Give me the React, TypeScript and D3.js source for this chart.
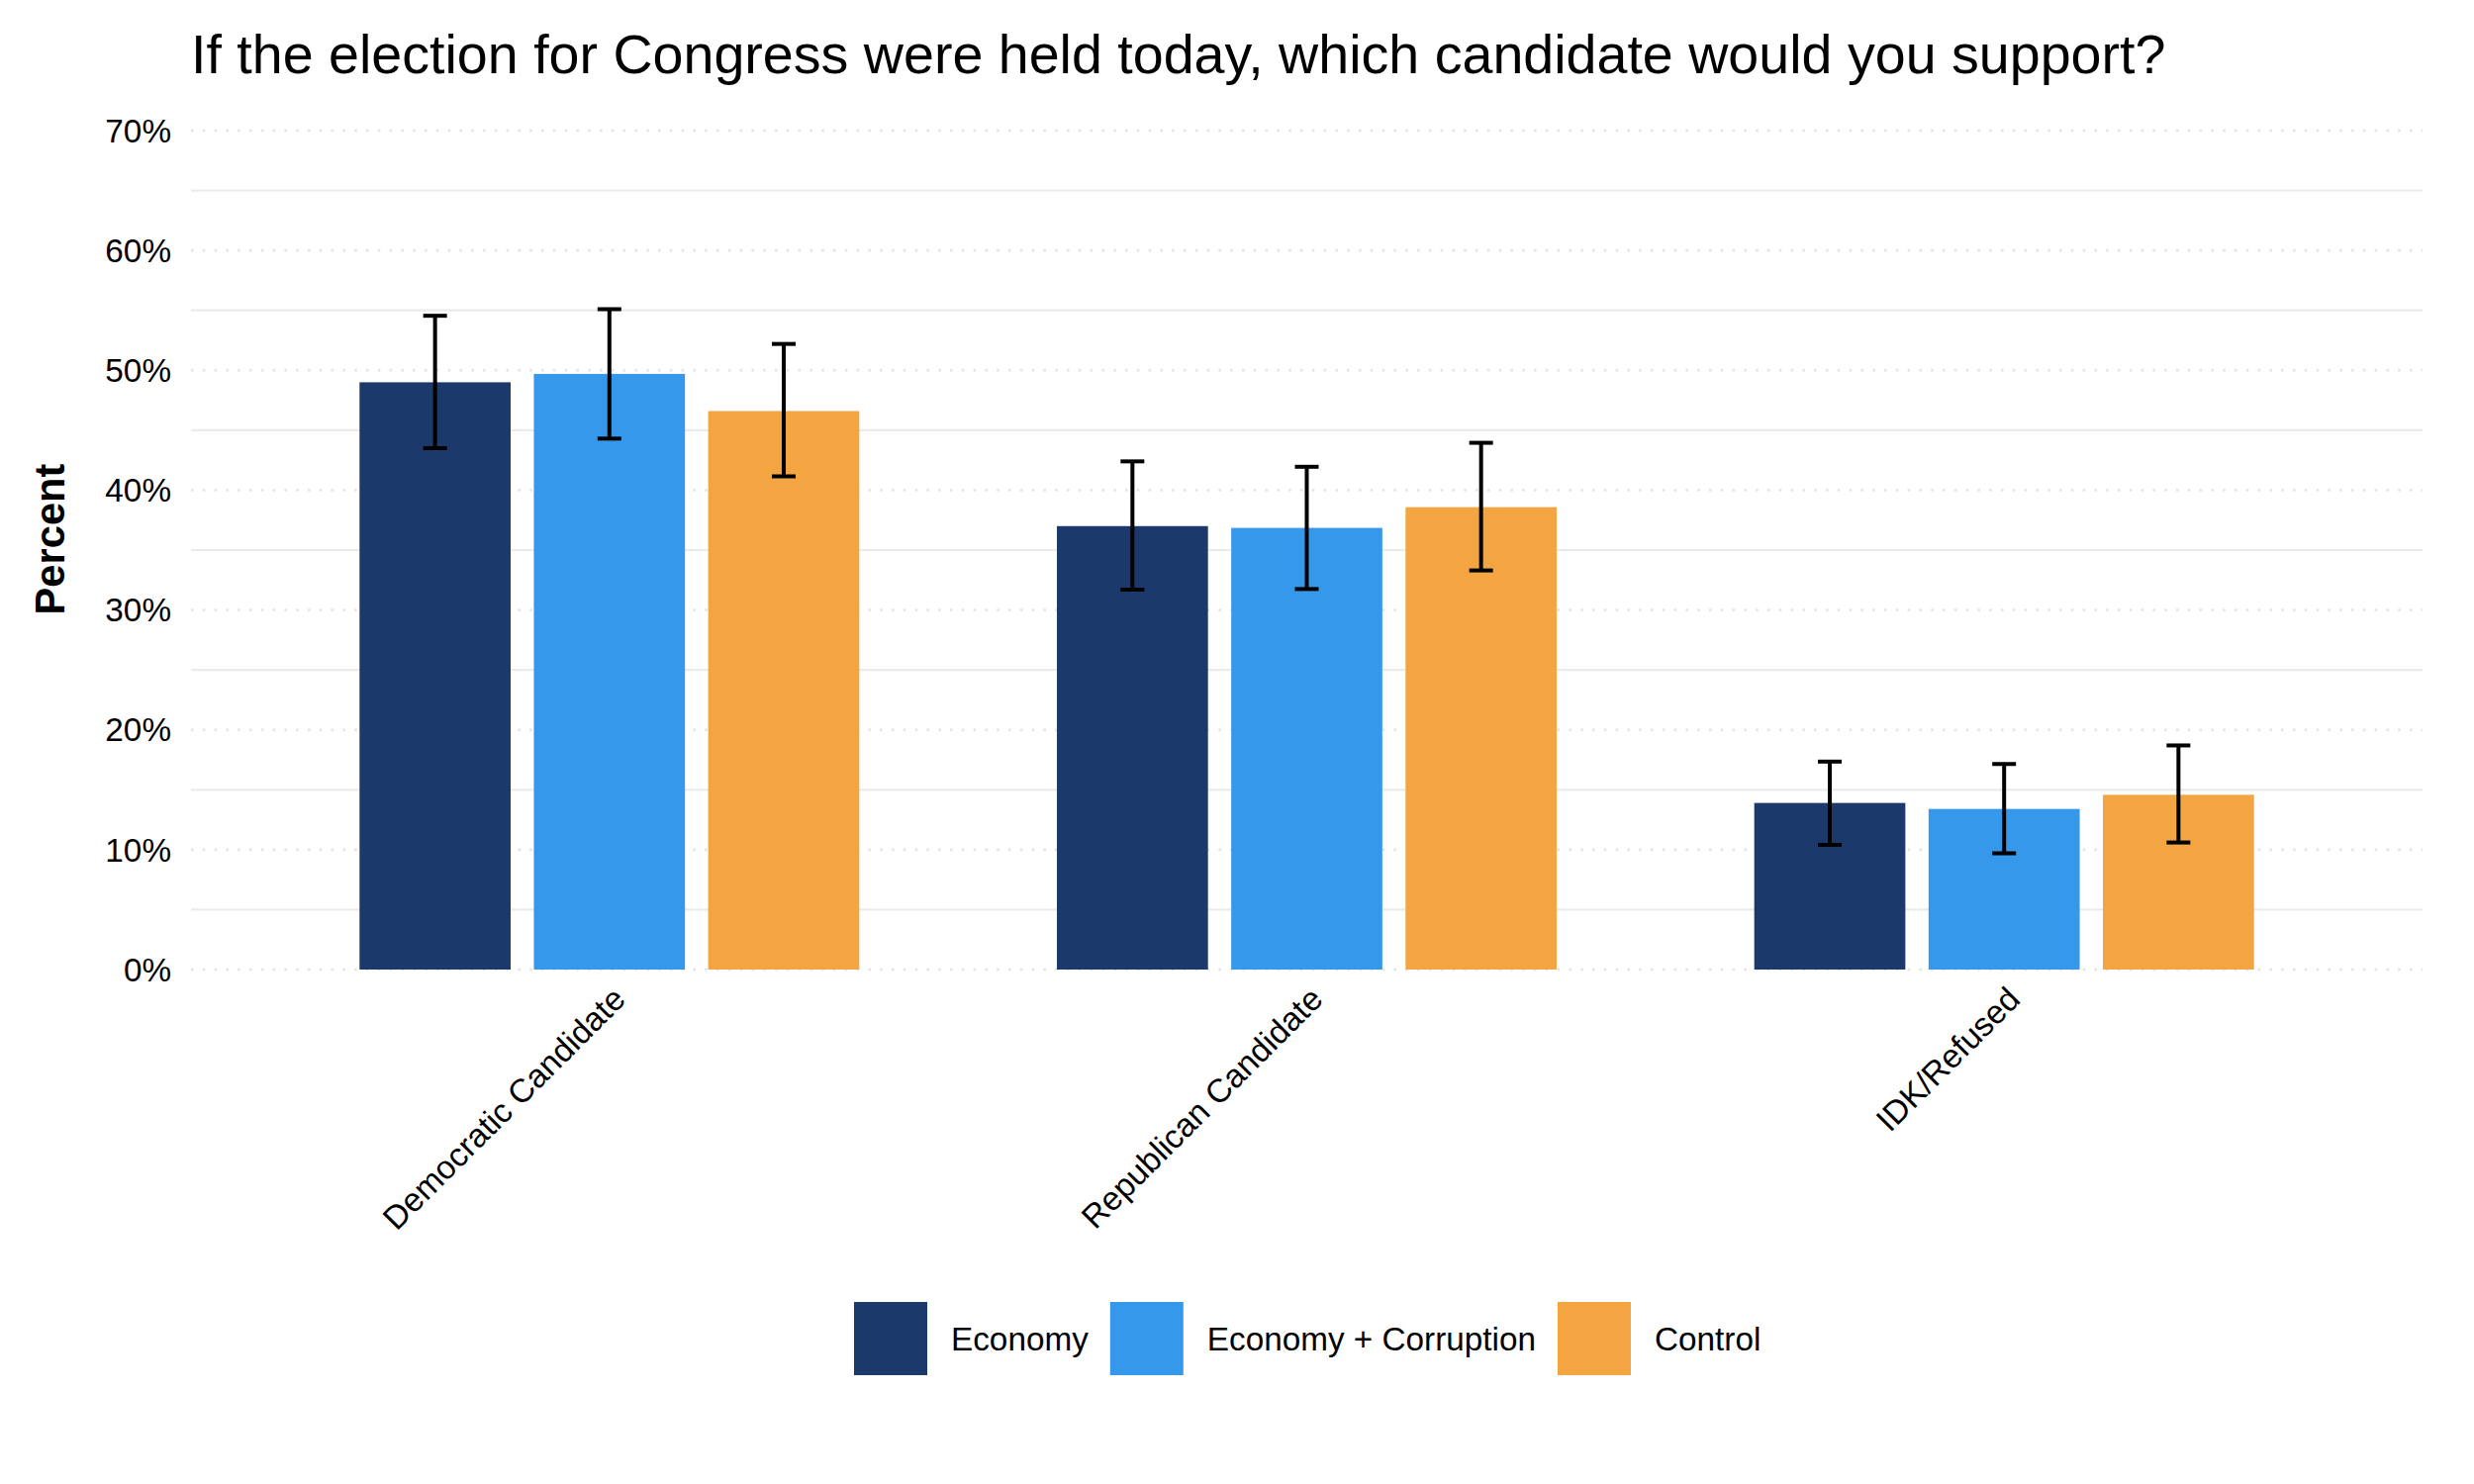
import React from "react";
import * as d3 from "d3";

const categories = ["Democratic Candidate", "Republican Candidate", "IDK/Refused"];
const seriesNames = ["Economy", "Economy + Corruption", "Control"];
const seriesColors = ["#1b3a6b", "#3598eb", "#f2a541"];

// percent values
const economy = [49.0, 37.0, 13.9];
const economyLo = [43.5, 31.7, 10.4];
const economyHi = [54.55, 42.4, 17.35];

const corruption = [49.7, 36.85, 13.4];
const corruptionLo = [44.3, 31.75, 9.7];
const corruptionHi = [55.1, 41.95, 17.15];

const control = [46.6, 38.58, 14.58];
const controlLo = [41.15, 33.3, 10.6];
const controlHi = [52.2, 43.95, 18.7];

const majorTicks = [0, 10, 20, 30, 40, 50, 60, 70];
const minorTicks = [5, 15, 25, 35, 45, 55, 65];

type Row = { cat: string; series: string; value: number; lo: number; hi: number };

const values = [economy, corruption, control];
const lows = [economyLo, corruptionLo, controlLo];
const highs = [economyHi, corruptionHi, controlHi];

const rows: Row[] = categories.flatMap((cat, ci) =>
    seriesNames.map((s, si) => ({
        cat,
        series: s,
        value: values[si][ci],
        lo: lows[si][ci],
        hi: highs[si][ci],
    }))
);

const FONT = "'Liberation Sans', Arial, Helvetica, sans-serif";

function textWidth(text: string, size: number) {
    const ctx = document.createElement("canvas").getContext("2d");
    if (!ctx) return text.length * size * 0.55;
    ctx.font = `${size}px 'Liberation Sans', Arial, sans-serif`;
    return ctx.measureText(text).width;
}

const App: React.FC = () => {
    const width = 2500;
    const height = 1500;
    const panel = { left: 193, right: 2448 };

    const x = d3
        .scaleBand<string>()
        .domain(categories)
        .range([panel.left, panel.right])
        .paddingInner(0.25)
        .paddingOuter(0.225);

    const xInner = d3
        .scaleBand<string>()
        .domain(seriesNames)
        .range([0, x.bandwidth()])
        .paddingInner(0.1333)
        .paddingOuter(0.0667);

    const y = d3.scaleLinear().domain([0, 70]).range([980, 132]);

    const color = d3.scaleOrdinal<string, string>().domain(seriesNames).range(seriesColors);

    const tickFmt = (v: number) => `${v}%`;
    const capHalf = 12;

    // legend layout
    const keySize = 74;
    const legendY = 1316;
    let cursor = 863;
    const legendItems = seriesNames.map((s) => {
        const item = { name: s, keyX: cursor, labelX: cursor + keySize + 24 };
        cursor = item.labelX + textWidth(s, 33.3) + 22;
        return item;
    });

    return (
        <svg
            width={width}
            height={height}
            style={{ position: "absolute", left: 0, top: 0, background: "#fff" }}
            fontFamily={FONT}
        >
            <rect width={width} height={height} fill="#fff" />

            <text x={panel.left} y={74} fontSize={55.6} fill="#000">
                If the election for Congress were held today, which candidate would you support?
            </text>

            {/* grid */}
            {minorTicks.map((t) => (
                <line
                    key={`mn${t}`}
                    x1={panel.left}
                    x2={panel.right}
                    y1={y(t)}
                    y2={y(t)}
                    stroke="#ebebeb"
                    strokeWidth={2.2}
                />
            ))}
            {majorTicks.map((t) => (
                <line
                    key={`mj${t}`}
                    x1={panel.left}
                    x2={panel.right}
                    y1={y(t)}
                    y2={y(t)}
                    stroke="#e3e3e3"
                    strokeWidth={2.6}
                    strokeDasharray="2.6 9.2"
                />
            ))}

            {/* y axis labels */}
            {majorTicks.map((t) => (
                <text
                    key={`yl${t}`}
                    x={173}
                    y={y(t)}
                    dy="0.35em"
                    textAnchor="end"
                    fontSize={33.3}
                    fill="#000"
                >
                    {tickFmt(t)}
                </text>
            ))}
            <text
                transform={`translate(50,545) rotate(-90)`}
                textAnchor="middle"
                dy="0.35em"
                fontSize={41.7}
                fontWeight="bold"
                fill="#000"
            >
                Percent
            </text>

            {/* bars */}
            {rows.map((r, i) => {
                const bx = (x(r.cat) ?? 0) + (xInner(r.series) ?? 0);
                return (
                    <rect
                        key={`b${i}`}
                        x={bx}
                        y={y(r.value)}
                        width={xInner.bandwidth()}
                        height={y(0) - y(r.value)}
                        fill={color(r.series)}
                    />
                );
            })}

            {/* error bars */}
            {rows.map((r, i) => {
                const cx = (x(r.cat) ?? 0) + (xInner(r.series) ?? 0) + xInner.bandwidth() / 2;
                return (
                    <g key={`e${i}`} stroke="#000" strokeWidth={4} fill="none">
                        <line x1={cx} x2={cx} y1={y(r.hi)} y2={y(r.lo)} />
                        <line x1={cx - capHalf} x2={cx + capHalf} y1={y(r.hi)} y2={y(r.hi)} />
                        <line x1={cx - capHalf} x2={cx + capHalf} y1={y(r.lo)} y2={y(r.lo)} />
                    </g>
                );
            })}

            {/* x labels */}
            {categories.map((c) => {
                const cx = (x(c) ?? 0) + x.bandwidth() / 2;
                return (
                    <text
                        key={`xl${c}`}
                        transform={`translate(${cx + 18},1012) rotate(-45)`}
                        textAnchor="end"
                        fontSize={33.3}
                        fill="#000"
                    >
                        {c}
                    </text>
                );
            })}

            {/* legend */}
            {legendItems.map((it) => (
                <g key={`lg${it.name}`}>
                    <rect
                        x={it.keyX}
                        y={legendY}
                        width={keySize}
                        height={keySize}
                        fill={color(it.name)}
                    />
                    <text
                        x={it.labelX}
                        y={legendY + keySize / 2}
                        dy="0.35em"
                        fontSize={33.3}
                        fill="#000"
                    >
                        {it.name}
                    </text>
                </g>
            ))}
        </svg>
    );
};

export default App;
